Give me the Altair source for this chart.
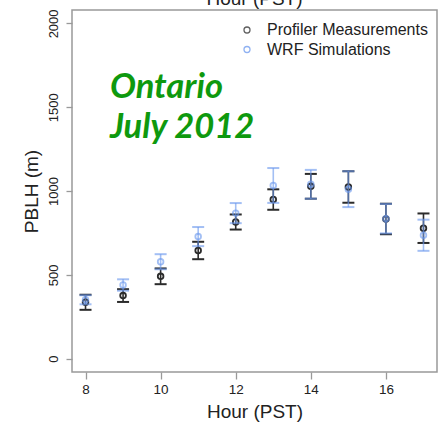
import altair as alt
import pandas as pd

# Hourly planetary boundary layer height, Ontario, July 2012
hours = [8, 9, 10, 11, 12, 13, 14, 15, 16, 17]
profiler_mean = [336, 376, 491, 645, 815, 949, 1028, 1024, 833, 778]
profiler_err = [45, 38, 47, 52, 45, 61, 74, 94, 91, 88]
wrf_mean = [351, 439, 578, 728, 868, 1033, 1040, 1011, 835, 736]
wrf_err = [27, 34, 45, 57, 60, 104, 86, 107, 88, 93]

series_names = ["Profiler Measurements", "WRF Simulations"]
series_colors = ["#2b2b2b", "#6a98ee"]

x_ticks = [8, 10, 12, 14, 16]
y_ticks = [0, 500, 1000, 1500, 2000]

notes = ["Ontario", "July 2012"]
note_hour = [8.65, 8.65]
note_pblh = [1555, 1317]

FONT = "Liberation Sans"


def frame(name, mean, err):
    df = pd.DataFrame({"hour": hours, "pblh": mean, "err": err})
    df["lo"] = df["pblh"] - df["err"]
    df["hi"] = df["pblh"] + df["err"]
    df["series"] = name
    return df


x_scale = alt.Scale(domain=[7.64, 17.36], nice=False, zero=False)
y_scale = alt.Scale(domain=[-80, 2080], nice=False, zero=False)
color_scale = alt.Scale(domain=series_names, range=series_colors)

x_axis = alt.Axis(
    values=x_ticks, format="d", title="Hour (PST)", grid=False, domain=False,
    tickSize=7, tickColor="#999", tickWidth=1.3,
    labelFont=FONT, labelFontSize=13.5, labelColor="#222", labelPadding=3,
    titleFont=FONT, titleFontSize=19, titleFontWeight="normal", titleColor="#222",
    titleX=182.5, titleY=45, titleAlign="center", titleBaseline="alphabetic",
)
y_axis = alt.Axis(
    values=y_ticks, format="d", title="PBLH (m)", grid=False, domain=False,
    tickSize=6, tickColor="#999", tickWidth=1.3,
    labelFont=FONT, labelFontSize=13, labelColor="#222", labelPadding=6,
    labelAngle=270, labelAlign="center", labelBaseline="bottom",
    titleFont=FONT, titleFontSize=19, titleFontWeight="normal", titleColor="#222",
    titleAngle=270, titleX=-35, titleY=181, titleAlign="center", titleBaseline="alphabetic",
)

legend = alt.Legend(
    orient="none", legendX=167, legendY=12, title=None, padding=0,
    labelFont=FONT, labelFontSize=16, labelColor="#222", labelOffset=12, labelLimit=400,
    symbolSize=36, symbolStrokeWidth=1.3, symbolOpacity=0.75, rowPadding=3.5,
    symbolType="circle",
)

X = alt.X("hour:Q", scale=x_scale, axis=x_axis)


def Y(field):
    return alt.Y(field, type="quantitative", scale=y_scale, axis=y_axis)


def series_layers(df, opacity):
    base = alt.Chart(df)
    color = alt.Color("series:N", scale=color_scale, legend=legend)
    bar = base.mark_rule(strokeWidth=1.6, opacity=opacity).encode(
        x=X, y=Y("lo"), y2="hi:Q", color=color
    )
    # end caps: short horizontal rules either side of the hour
    cap_lo = base.mark_rule(strokeWidth=2, opacity=opacity, xOffset=-6, x2Offset=6).encode(
        x=X, x2="hour:Q", y=Y("lo"), color=color
    )
    cap_hi = base.mark_rule(strokeWidth=2, opacity=opacity, xOffset=-6, x2Offset=6).encode(
        x=X, x2="hour:Q", y=Y("hi"), color=color
    )
    dots = base.mark_point(shape="circle", filled=False, size=32, strokeWidth=1.8,
                           opacity=opacity).encode(
        x=X, y=Y("pblh"), color=color
    )
    return [bar, cap_lo, cap_hi, dots]


profiler = frame(series_names[0], profiler_mean, profiler_err)
wrf = frame(series_names[1], wrf_mean, wrf_err)

note_df = pd.DataFrame({"hour": note_hour, "pblh": note_pblh, "label": notes})
note_text = alt.Chart(note_df).mark_text(
    font="Lato", fontSize=34.5, fontWeight="bold", fontStyle="italic",
    color="#0e990e", align="left", baseline="alphabetic",
).encode(x=X, y=Y("pblh"), text="label:N")

# x-axis title of the panel above, cut off by the figure edge
upper_title = alt.Chart(pd.DataFrame({"label": ["Hour (PST)"]})).mark_text(
    font=FONT, fontSize=19, color="#222", align="center", baseline="alphabetic",
).encode(x=alt.value(182.5), y=alt.value(-5), text="label:N")

chart = alt.layer(
    *series_layers(profiler, 1.0),
    *series_layers(wrf, 0.62),
    note_text,
    upper_title,
).properties(
    width=365,
    height=362,
    autosize=alt.AutoSizeParams(type="none"),
    padding={"left": 72, "top": 10, "right": 4, "bottom": 57},
).configure_view(
    stroke="#999", strokeWidth=1.5
)

chart.save("out.html", embed_options={"renderer": "svg", "actions": False})
